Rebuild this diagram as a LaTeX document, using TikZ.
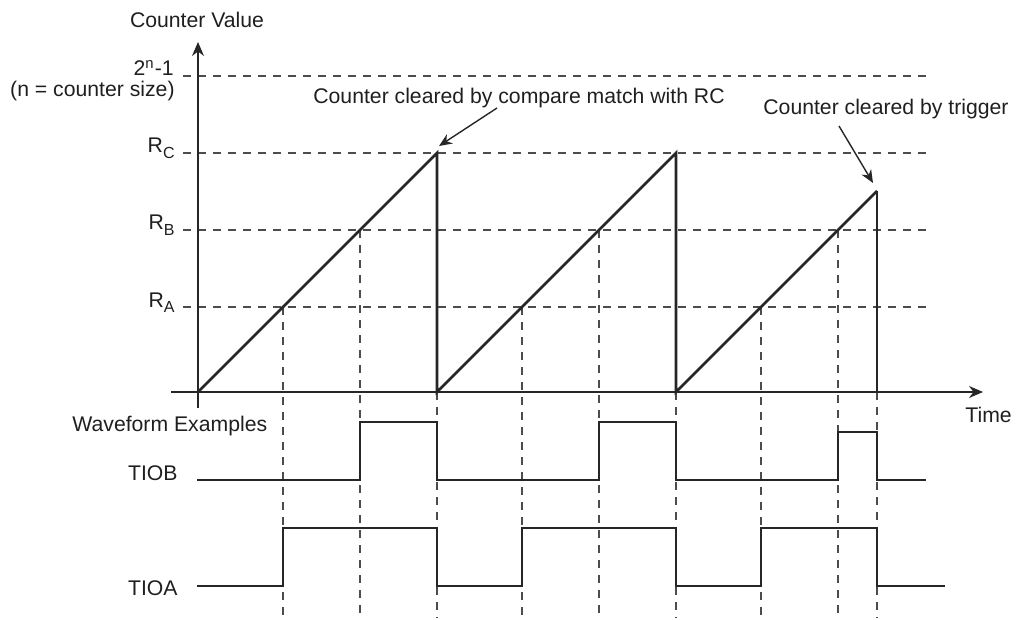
\documentclass[tikz,border=0pt]{standalone}
\usepackage{fontspec}
\setmainfont{Liberation Sans}
\usetikzlibrary{arrows.meta}
\newcommand{\mysub}[1]{\raisebox{-2.6pt}{\fontsize{8}{9}\selectfont #1}}
\begin{document}
\begin{tikzpicture}[x=0.5pt,y=-0.5pt,
  lbl/.style={inner sep=0pt, font=\fontsize{10.6}{12}\selectfont, text=black!88},
  axisline/.style={line width=0.75pt, draw=black!85},
  sig/.style={line width=1.35pt, draw=black!85, line join=miter},
  guide/.style={line width=0.7pt, draw=black!70, dash pattern=on 4pt off 3.5pt},
  ptr/.style={line width=0.7pt, draw=black!85, -{Stealth[length=6.5pt,width=5.5pt]}},
  axarrow/.style={axisline, -{Stealth[length=7pt,width=6pt]}}
  ]
\useasboundingbox (0,0) rectangle (1017,620);
% guide lines (horizontal)
\foreach \yy in {76,153,230,307} \draw[guide] (183,\yy) -- (927,\yy);
% key coordinates
\coordinate (O) at (198,392);
\coordinate (P1) at (437,153);
\coordinate (Z1) at (437,392);
\coordinate (P2) at (676,153);
\coordinate (Z2) at (676,392);
\coordinate (P3) at (877,191);
\coordinate (Z3) at (877,392);
\coordinate (A1) at (283,307);
\coordinate (B1) at (360,230);
\coordinate (A2) at (522,307);
\coordinate (B2) at (599,230);
\coordinate (A3) at (761,307);
\coordinate (B3) at (838,230);
% guide lines (vertical)
\foreach \c in {A1,B1,Z1,A2,B2,Z2,A3,B3,Z3} \draw[guide] (\c) -- (\c |- 0,618);
% axes
\draw[axarrow] (198,408) -- (198,42);
\draw[axarrow] (171,392) -- (983,392);
% counter ramps
\draw[sig] (O) -- (P1) -- (Z1) -- (P2) -- (Z2) -- (P3);
\draw[axisline] (P3) -- (Z3);
% waveforms
\draw[sig] (197,480) -- (360,480) -- (360,422) -- (437,422) -- (437,480) -- (599,480) -- (599,422) -- (676,422) -- (676,480) -- (838,480) -- (838,432) -- (877,432) -- (877,480) -- (926,480);
\draw[sig] (197,586) -- (283,586) -- (283,528) -- (437,528) -- (437,586) -- (522,586) -- (522,528) -- (676,528) -- (676,586) -- (761,586) -- (761,528) -- (877,528) -- (877,586) -- (945,586);
% labels
\node[lbl, anchor=base] (cv) at (197,28) {Counter Value};
\node[lbl, anchor=base east] (max) at (174,76) {2\textsuperscript{n}-1};
\node[lbl, anchor=base east] (nsz) at (175,97) {(n = counter size)};
\node[lbl, anchor=base east] (rc) at (175,153) {R\mysub{C}};
\node[lbl, anchor=base east] (rb) at (175,230) {R\mysub{B}};
\node[lbl, anchor=base east] (ra) at (175,307) {R\mysub{A}};
\node[lbl, anchor=base west] (cmp) at (313,104) {Counter cleared by compare match with RC};
\node[lbl, anchor=base west] (trg) at (763,115) {Counter cleared by trigger};
\node[lbl, anchor=base west] (time) at (965,422) {Time};
\node[lbl, anchor=base west] (wf) at (72,431) {Waveform Examples};
\node[lbl, anchor=base east] (tiob) at (178,480) {TIOB};
\node[lbl, anchor=base east] (tioa) at (178,595) {TIOA};
% pointers
\coordinate (a1s) at (497,108);
\coordinate (a1e) at (439,146);
\coordinate (a2s) at (839,126);
\coordinate (a2e) at (873,183);
\draw[ptr] (a1s) -- (a1e);
\draw[ptr] (a2s) -- (a2e);
\end{tikzpicture}
\end{document}
